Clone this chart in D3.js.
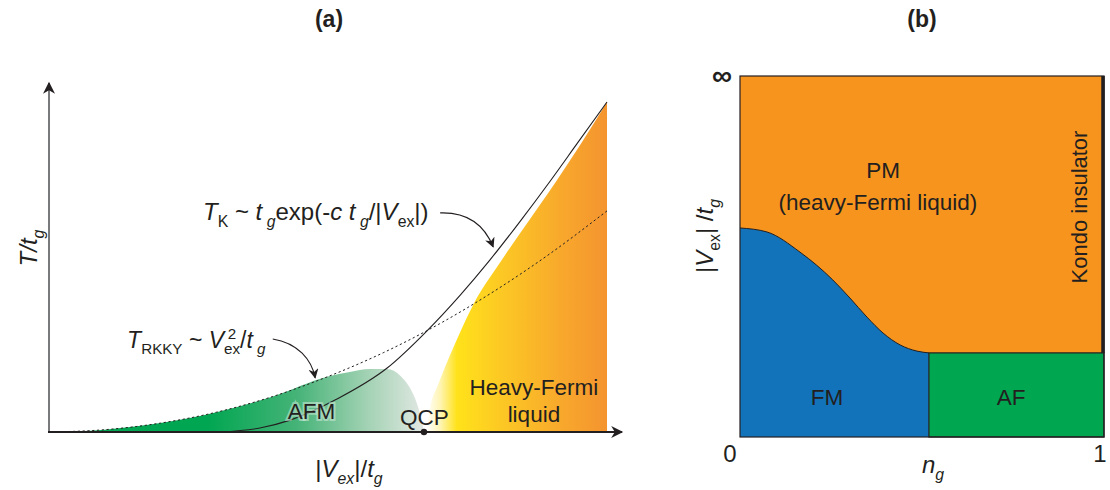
<!DOCTYPE html>
<html>
<head>
<meta charset="utf-8">
<script src="https://cdn.jsdelivr.net/npm/d3@7"></script>
<style>
body { margin: 0; background: #fff; }
svg { display: block; font-family: "Liberation Sans", Arial, Helvetica, sans-serif; }
text { white-space: pre; }
</style>
</head>
<body>
<svg id="chart" width="1110" height="490"></svg>
<script>
// ---- panel (a), x = |Vex|/tg, y = T/tg (normalised 0..1)
var rkkyX  = [0, 0.1, 0.2, 0.3, 0.4, 0.5, 0.6, 0.7, 0.8, 0.9, 1];
var rkkyT  = [0, 0.007, 0.027, 0.060, 0.107, 0.168, 0.241, 0.328, 0.429, 0.543, 0.670];
var kondoX = [0.306, 0.378, 0.432, 0.516, 0.606, 0.677, 0.737, 0.790, 0.845, 0.898, 0.946, 1];
var kondoT = [0, 0.012, 0.036, 0.100, 0.194, 0.306, 0.415, 0.521, 0.640, 0.760, 0.873, 1];
var afmX   = [0, 0.1, 0.2, 0.3, 0.4, 0.5, 0.539, 0.575, 0.606, 0.630, 0.647, 0.659, 0.667, 0.672];
var afmT   = [0, 0.007, 0.027, 0.060, 0.107, 0.168, 0.182, 0.191, 0.191, 0.170, 0.133, 0.088, 0.042, 0];
var hflX   = [0.676, 0.683, 0.697, 0.715, 0.737, 0.760, 0.809, 0.859, 0.909, 0.953, 1];
var hflT   = [0, 0.076, 0.142, 0.218, 0.303, 0.385, 0.515, 0.638, 0.760, 0.873, 1];
var qcpX   = 0.672;

// ---- panel (b): x = n_g (0..1), y = |Vex|/tg squashed so that 1 = infinity
var fmN = [0, 0.074, 0.165, 0.255, 0.302, 0.349, 0.393, 0.440, 0.486, 0.519];
var fmV = [0.579, 0.568, 0.512, 0.435, 0.385, 0.332, 0.288, 0.255, 0.238, 0.233];
var afN = [0.519, 1];
var afV = [0, 0.233];
var bTickLabels = ["0", "1"];
var bTopLabel = "\u221E";

var ink = "#231f20";
var svg = d3.select("#chart");

// scales
var xA = d3.scaleLinear().domain([0, 1]).range([49, 607]);
var yA = d3.scaleLinear().domain([0, 1]).range([432, 102]);
var xB = d3.scaleLinear().domain([0, 1]).range([740, 1104]);
var yB = d3.scaleLinear().domain([0, 1]).range([437, 76]);

// Function: text with italic / sub / sup pieces
var richText = function(sel, x, y, parts, size, anchor, rotate) {
    var t = sel.append("text")
        .attr("x", x).attr("y", y)
        .attr("font-size", size)
        .attr("fill", ink)
        .attr("text-anchor", anchor || "start");
    if (rotate) t.attr("transform", "rotate(-90," + x + "," + y + ")");
    var shift = 0;
    parts.forEach(function(p) {
        var s = p.sub ? size * 0.28 : (p.sup ? -size * 0.38 : 0);
        var ts = t.append("tspan").text(p.t).attr("dy", s - shift);
        if (p.sub || p.sup) ts.attr("font-size", size * 0.66);
        if (p.i) ts.attr("font-style", "italic");
        if (p.dx) ts.attr("dx", p.dx);
        shift = s;
    });
    return t;
};

var defs = svg.append("defs");
defs.append("marker")
    .attr("id", "head")
    .attr("viewBox", "0 0 10 10")
    .attr("refX", 9).attr("refY", 5)
    .attr("markerWidth", 10).attr("markerHeight", 10)
    .attr("markerUnits", "userSpaceOnUse")
    .attr("orient", "auto")
    .append("path").attr("d", "M0,0 L10,5 L0,10 L3,5 Z").attr("fill", ink);
defs.append("marker")
    .attr("id", "axhead")
    .attr("viewBox", "0 0 10 10")
    .attr("refX", 9).attr("refY", 5)
    .attr("markerWidth", 14).attr("markerHeight", 12)
    .attr("markerUnits", "userSpaceOnUse")
    .attr("orient", "auto")
    .append("path").attr("d", "M0,0 L10,5 L0,10 L3,5 Z").attr("fill", ink);

var gGreen = defs.append("linearGradient").attr("id", "gGreen")
    .attr("gradientUnits", "userSpaceOnUse")
    .attr("x1", xA(0)).attr("x2", xA(qcpX)).attr("y1", 0).attr("y2", 0);
[[0, "#00a651"], [0.42, "#00a651"], [0.66, "#45b377"], [0.85, "#a3d2b4"], [1, "#e2e8e3"]]
    .forEach(function(s) { gGreen.append("stop").attr("offset", s[0]).attr("stop-color", s[1]); });

var gOrange = defs.append("linearGradient").attr("id", "gOrange")
    .attr("gradientUnits", "userSpaceOnUse")
    .attr("x1", xA(hflX[0])).attr("x2", xA(1)).attr("y1", 0).attr("y2", 0);
[[0, "#ffffff"], [0.08, "#fff4b0"], [0.17, "#ffe21a"], [0.42, "#fcc824"], [0.75, "#f8a82c"], [1, "#f4942f"]]
    .forEach(function(s) { gOrange.append("stop").attr("offset", s[0]).attr("stop-color", s[1]); });

// ================= panel (a) =================
var pa = svg.append("g");

var areaA = d3.area()
    .x(function(d) { return xA(d[0]); })
    .y0(yA(0))
    .y1(function(d) { return yA(d[1]); })
    .curve(d3.curveMonotoneX);
var lineA = d3.line()
    .x(function(d) { return xA(d[0]); })
    .y(function(d) { return yA(d[1]); })
    .curve(d3.curveMonotoneX);

pa.append("path")
    .attr("d", areaA(d3.zip(afmX, afmT)))
    .attr("fill", "url(#gGreen)");

// heavy-Fermi region: boundary curve, then down the right edge
var hflPts = d3.zip(hflX, hflT);
pa.append("path")
    .attr("d", lineA(hflPts) + "L" + xA(1) + "," + yA(0) + "L" + xA(hflX[0]) + "," + yA(0) + "Z")
    .attr("fill", "url(#gOrange)");

pa.append("path")
    .attr("d", lineA(d3.zip(rkkyX, rkkyT)))
    .attr("fill", "none")
    .attr("stroke", ink)
    .attr("stroke-width", 1)
    .attr("stroke-dasharray", "2.2,2.6");

pa.append("path")
    .attr("d", lineA(d3.zip(kondoX, kondoT)))
    .attr("fill", "none")
    .attr("stroke", ink)
    .attr("stroke-width", 1.1);

// axes
pa.append("line")
    .attr("x1", xA(0)).attr("y1", yA(0))
    .attr("x2", xA(0)).attr("y2", 83)
    .attr("stroke", "#58595b").attr("stroke-width", 1.6)
    .attr("marker-end", "url(#axhead)");
pa.append("line")
    .attr("x1", xA(0) - 1).attr("y1", yA(0))
    .attr("x2", 622).attr("y2", yA(0))
    .attr("stroke", ink).attr("stroke-width", 2)
    .attr("marker-end", "url(#axhead)");

pa.append("circle")
    .attr("cx", xA(qcpX)).attr("cy", yA(0))
    .attr("r", 3.2).attr("fill", ink);

// labels
pa.append("text").text("AFM")
    .attr("x", xA(0.428)).attr("y", yA(0.039))
    .attr("font-size", 22.5).attr("fill", ink)
    .attr("stroke", "rgba(210,235,220,0.55)").attr("stroke-width", 4)
    .attr("paint-order", "stroke");
pa.append("text").text("QCP")
    .attr("x", xA(0.629)).attr("y", yA(0.021))
    .attr("font-size", 22.5).attr("fill", ink);
pa.append("text").text("Heavy-Fermi")
    .attr("x", xA(0.869)).attr("y", yA(0.112))
    .attr("text-anchor", "middle")
    .attr("font-size", 22.5).attr("fill", ink);
pa.append("text").text("liquid")
    .attr("x", xA(0.869)).attr("y", yA(0.030))
    .attr("text-anchor", "middle")
    .attr("font-size", 22.5).attr("fill", ink);

richText(pa, xA(0.276), yA(0.642), [
    {t: "T", i: 1}, {t: "K", sub: 1}, {t: " ~ "}, {t: "t", i: 1}, {t: " g", i: 1, sub: 1},
    {t: "exp(-"}, {t: "c ", i: 1}, {t: "t", i: 1}, {t: " g", i: 1, sub: 1},
    {t: "/|"}, {t: "V", i: 1}, {t: "ex", sub: 1}, {t: "|)"}
], 24, "start");

richText(pa, xA(0.140), yA(0.255), [
    {t: "T", i: 1}, {t: "RKKY", sub: 1}, {t: " ~ "}, {t: "V", i: 1},
    {t: "ex", sub: 1}, {t: "2", sup: 1, dx: -12.4}, {t: "/", dx: 3.9},
    {t: "t", i: 1}, {t: " g", i: 1, sub: 1}
], 23, "start");

// annotation arrows (data coords)
var arrows = [
    [[0.701, 0.664], [0.754, 0.667], [0.781, 0.624], [0.796, 0.561]],
    [[0.401, 0.282], [0.446, 0.270], [0.471, 0.218], [0.477, 0.164]]
];
arrows.forEach(function(a) {
    var p = a.map(function(d) { return [xA(d[0]), yA(d[1])]; });
    pa.append("path")
        .attr("d", "M" + p[0] + "C" + p[1] + " " + p[2] + " " + p[3])
        .attr("fill", "none").attr("stroke", ink).attr("stroke-width", 1.1)
        .attr("marker-end", "url(#head)");
});

// axis titles
richText(pa, 349, 477, [
    {t: "|"}, {t: "V", i: 1}, {t: "ex", i: 1, sub: 1}, {t: "|/"}, {t: "t", i: 1}, {t: "g", i: 1, sub: 1}
], 24, "middle");
richText(pa, 37, 248, [
    {t: "T/t", i: 1}, {t: "g", i: 1, sub: 1}
], 24, "middle", true);

svg.append("text").text("(a)")
    .attr("x", 329).attr("y", 27)
    .attr("text-anchor", "middle")
    .attr("font-size", 23).attr("font-weight", "bold").attr("fill", ink);

// ================= panel (b) =================
var pb = svg.append("g");

pb.append("rect")
    .attr("x", xB(0)).attr("y", yB(1))
    .attr("width", xB(1) - xB(0)).attr("height", yB(0) - yB(1))
    .attr("fill", "#f7941e");

var fmPts = d3.zip(fmN, fmV);
var areaB = d3.area()
    .x(function(d) { return xB(d[0]); })
    .y0(yB(0))
    .y1(function(d) { return yB(d[1]); })
    .curve(d3.curveMonotoneX);
var lineB = d3.line()
    .x(function(d) { return xB(d[0]); })
    .y(function(d) { return yB(d[1]); })
    .curve(d3.curveMonotoneX);

pb.append("path").attr("d", areaB(fmPts)).attr("fill", "#1273bb");
pb.append("path").attr("d", lineB(fmPts))
    .attr("fill", "none").attr("stroke", ink).attr("stroke-width", 1);

pb.append("rect")
    .attr("x", xB(afN[0])).attr("y", yB(afV[1]))
    .attr("width", xB(afN[1]) - xB(afN[0])).attr("height", yB(afV[0]) - yB(afV[1]))
    .attr("fill", "#00a650")
    .attr("stroke", ink).attr("stroke-width", 1.2);

pb.append("rect")
    .attr("x", xB(0)).attr("y", yB(1))
    .attr("width", xB(1) - xB(0)).attr("height", yB(0) - yB(1))
    .attr("fill", "none").attr("stroke", ink).attr("stroke-width", 1.2);

// Kondo insulator line at n_g = 1
pb.append("line")
    .attr("x1", xB(1) - 1).attr("x2", xB(1) - 1)
    .attr("y1", yB(1)).attr("y2", yB(afV[1]))
    .attr("stroke", ink).attr("stroke-width", 3.5);

pb.append("text").text("PM")
    .attr("x", xB(0.393)).attr("y", 178)
    .attr("text-anchor", "middle").attr("font-size", 22.5).attr("fill", ink);
pb.append("text").text("(heavy-Fermi liquid)")
    .attr("x", xB(0.379)).attr("y", 210)
    .attr("text-anchor", "middle").attr("font-size", 22.5).attr("fill", ink);
pb.append("text").text("FM")
    .attr("x", xB(0.239)).attr("y", 405)
    .attr("text-anchor", "middle").attr("font-size", 22.5).attr("fill", ink);
pb.append("text").text("AF")
    .attr("x", xB(0.745)).attr("y", 405)
    .attr("text-anchor", "middle").attr("font-size", 22.5).attr("fill", ink);
pb.append("text").text("Kondo insulator")
    .attr("x", 1087).attr("y", 207)
    .attr("transform", "rotate(-90,1087,207)")
    .attr("text-anchor", "middle").attr("font-size", 22).attr("fill", ink);

// ticks of panel (b)
pb.selectAll("text.btick")
    .data(bTickLabels)
    .enter()
    .append("text")
    .attr("class", "btick")
    .text(function(d) { return d; })
    .attr("x", function(d, i) { return i === 0 ? xB(0) - 10 : xB(1) - 4; })
    .attr("y", 462)
    .attr("text-anchor", "middle")
    .attr("font-size", 24).attr("fill", ink);
pb.append("text").text(bTopLabel)
    .attr("x", xB(0) - 18).attr("y", yB(1) + 9)
    .attr("text-anchor", "middle")
    .attr("font-size", 28).attr("font-weight", "bold").attr("fill", ink);

richText(pb, 933, 473, [
    {t: "n", i: 1}, {t: "g", i: 1, sub: 1}
], 24, "middle");
richText(pb, 713, 236, [
    {t: "|"}, {t: "V", i: 1}, {t: "ex", sub: 1}, {t: "| /"}, {t: "t", i: 1}, {t: "g", i: 1, sub: 1}
], 24, "middle", true);

svg.append("text").text("(b)")
    .attr("x", 922).attr("y", 27)
    .attr("text-anchor", "middle")
    .attr("font-size", 23).attr("font-weight", "bold").attr("fill", ink);
</script>
</body>
</html>
